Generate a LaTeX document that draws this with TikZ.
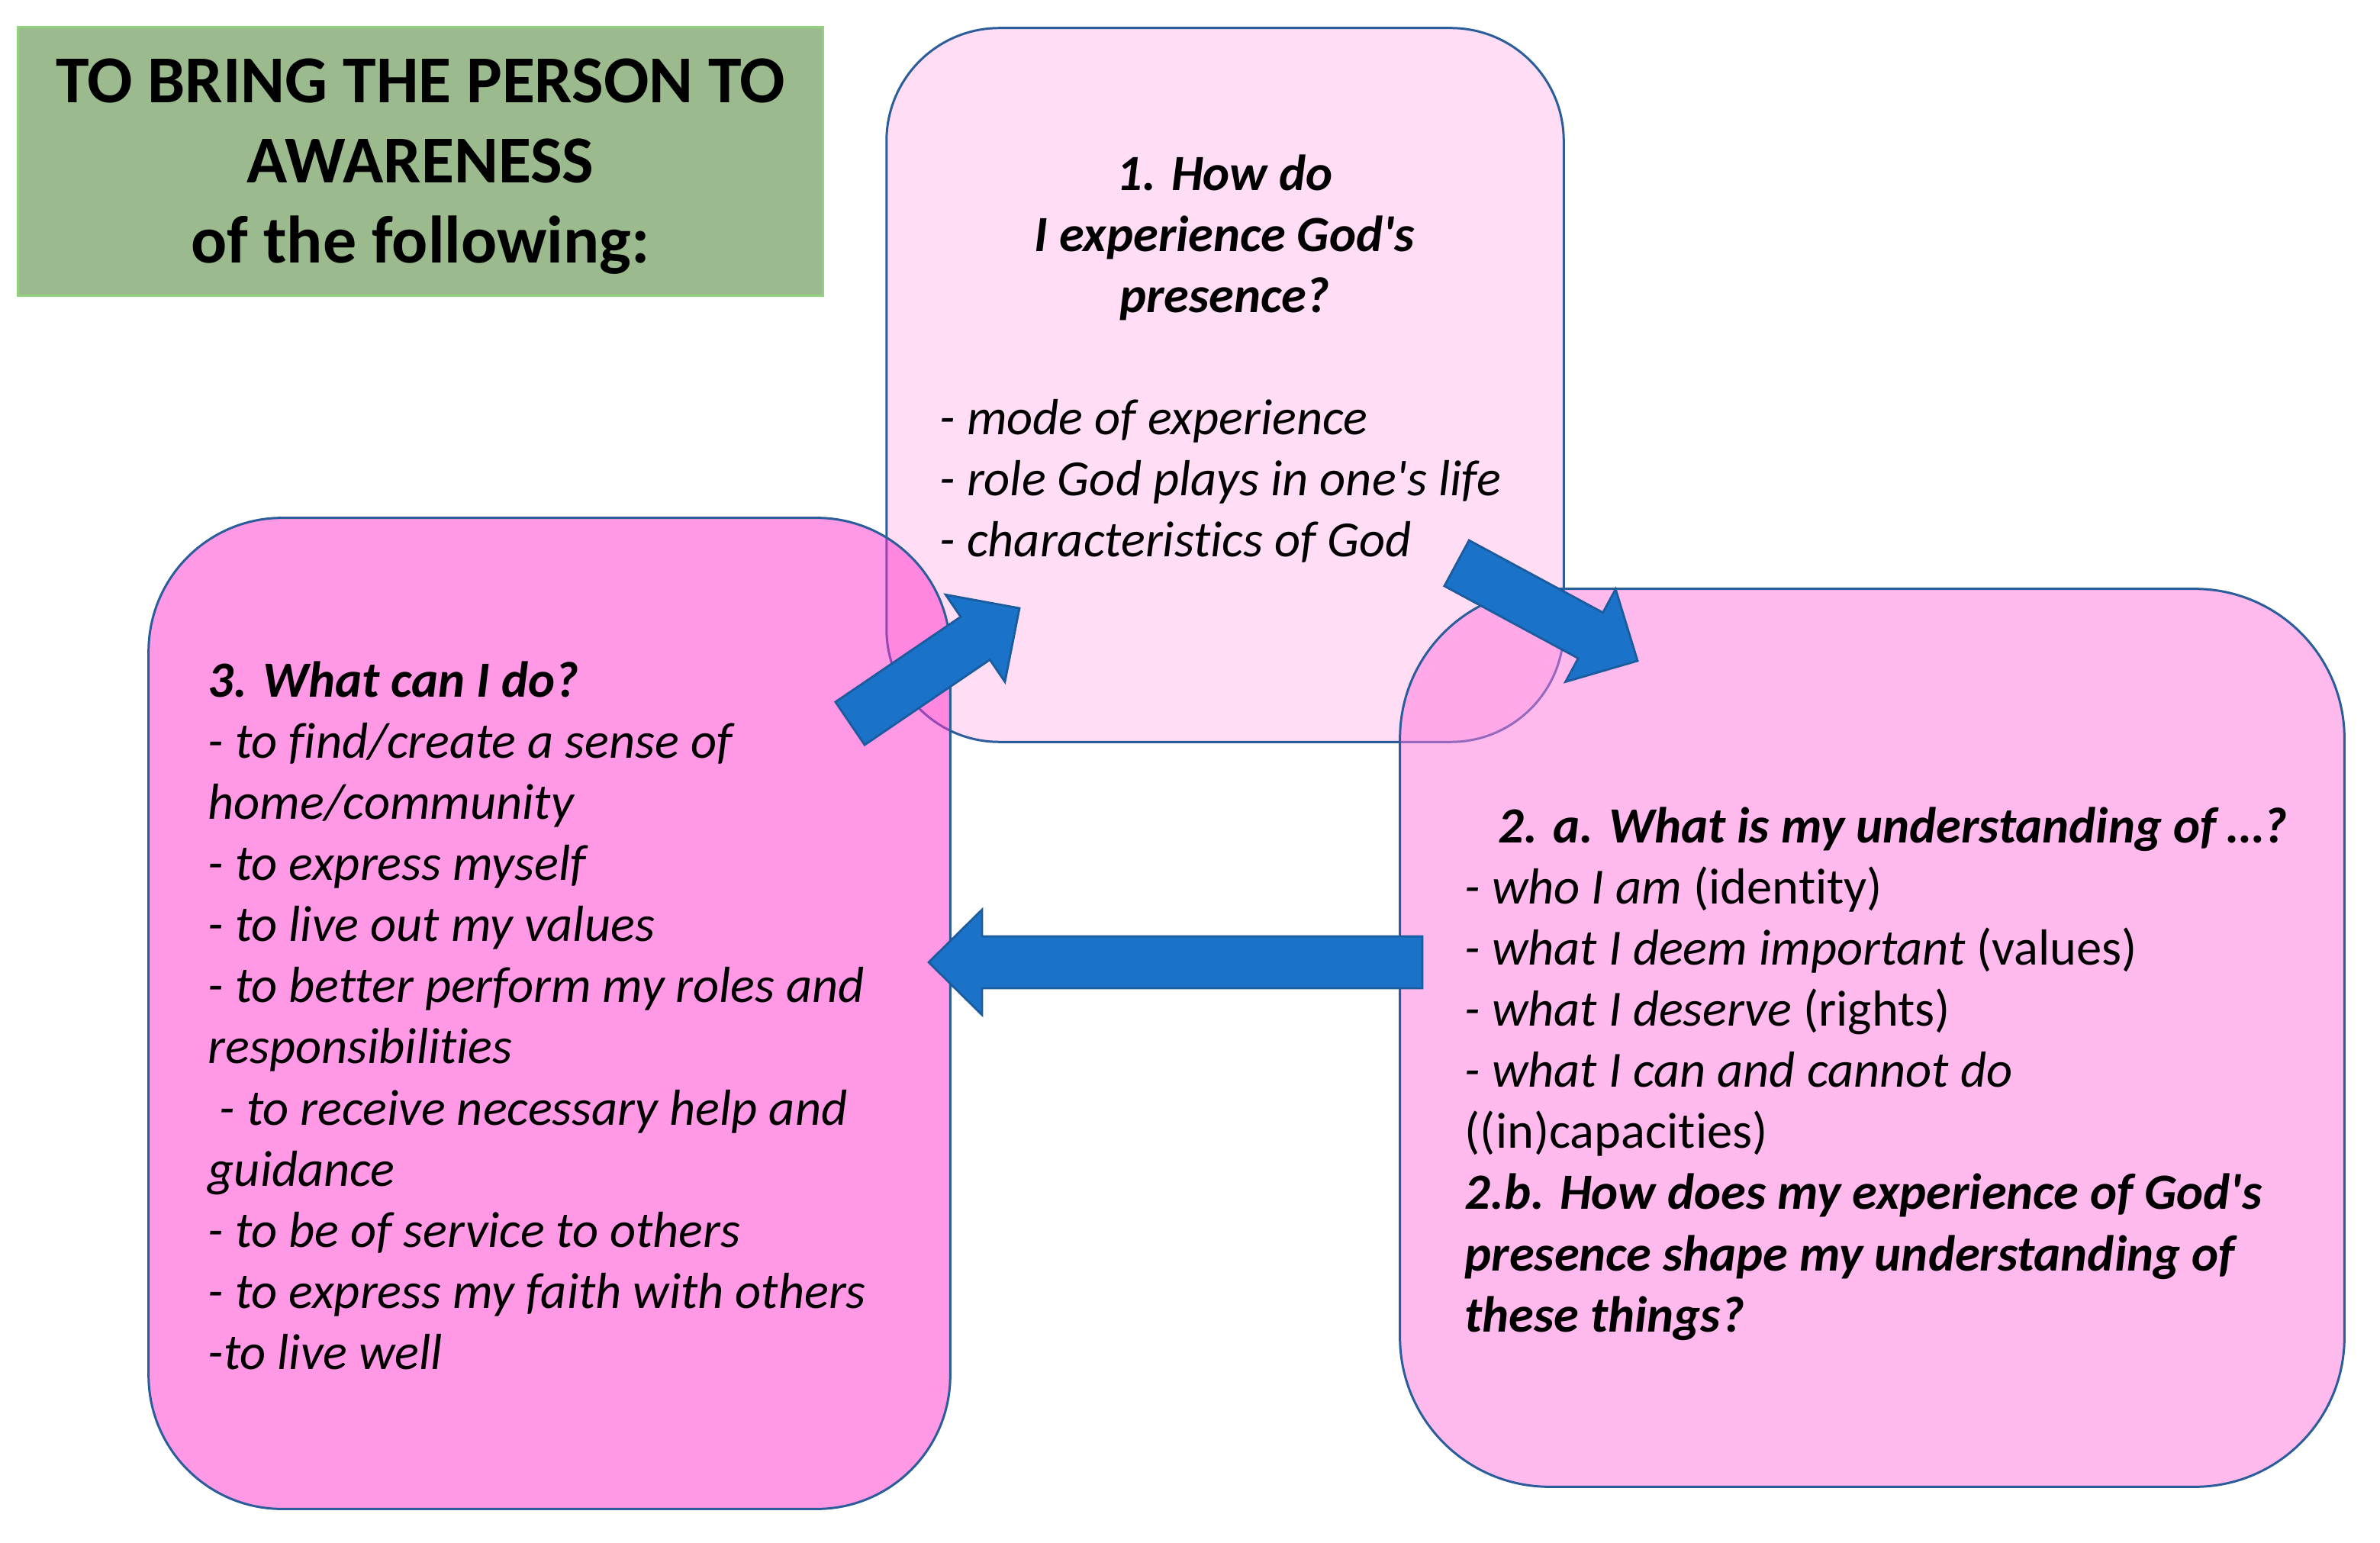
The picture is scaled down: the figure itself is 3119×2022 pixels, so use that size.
\documentclass[tikz,border=0pt]{standalone}
\usepackage{fontspec}
\setmainfont{Carlito}[Ligatures={TeXOff,CommonOff}]
\usetikzlibrary{calc}
\definecolor{boxline}{HTML}{2B5D9B}
\definecolor{arrowfill}{HTML}{1A73C8}
\definecolor{arrowline}{HTML}{1B5C9E}
\definecolor{titlefill}{HTML}{9BBB8F}
\definecolor{titleline}{HTML}{93D17F}
\definecolor{pinkA}{HTML}{FFDDF5}
\definecolor{pinkB}{HTML}{FF33CD}
\definecolor{pinkC}{HTML}{FF77DD}
\tikzset{
  pinkbox/.style={draw=boxline, line width=0.85pt, inner sep=0pt},
  blockarrowstyle/.style={fill=arrowfill, draw=arrowline, line width=0.8pt, line join=miter},
  bodytext/.style={inner sep=0pt, align=left, anchor=north west, font=\fontsize{18.9}{22.76}\selectfont\itshape},
  headtext/.style={inner sep=0pt, align=center, anchor=north, font=\fontsize{18.9}{22.76}\selectfont\itshape\bfseries},
}
\newcommand\blockarrow[3]{%
  \coordinate (#1n) at ($(#3)!0.70cm!(#2)$);
  \draw[blockarrowstyle] ($(#2)!0.34cm!90:(#3)$) -- ($(#1n)!0.34cm!-90:(#2)$) -- ($(#1n)!0.69cm!-90:(#2)$) -- (#3) -- ($(#1n)!0.69cm!90:(#2)$) -- ($(#1n)!0.34cm!90:(#2)$) -- ($(#2)!0.34cm!-90:(#3)$) -- cycle;
}
\begin{document}
\begin{tikzpicture}[x=0.01cm,y=-0.01cm]
\fill[white] (0,0) rectangle (3119,2022);
\useasboundingbox (0,0) rectangle (3119,2022);

% title
\node[fill=titlefill, draw=titleline, line width=0.85pt, inner sep=0pt, minimum width=10.54cm, minimum height=3.51cm] (title) at (551,211.5) {};
\node[inner sep=0pt, align=center, anchor=north, font=\fontsize{25}{29.9}\selectfont\bfseries] (titletext) at (551,60) {\strut TO BRING THE PERSON TO\\AWARENESS\\of the following:};

% boxes
\node[pinkbox, fill=pinkA, rounded corners=1.48cm, minimum width=8.87cm, minimum height=9.35cm] (b1) at (1605.5,504.5) {};
\node[pinkbox, fill=pinkB, fill opacity=0.5, rounded corners=1.75cm, minimum width=10.5cm, minimum height=12.98cm] (b3) at (720,1328) {};
\node[pinkbox, fill=pinkC, fill opacity=0.5, rounded corners=1.96cm, minimum width=12.37cm, minimum height=11.76cm] (b2) at (2453.5,1360) {};

% box 1 text
\node[headtext] (b1head) at (1605,193) {\strut 1. How do\\I experience God's\\presence?};
\node[bodytext] (b1body) at (1231,513) {\strut - mode of experience\\- role God plays in one's life\\- characteristics of God};

% box 3 text
\node[bodytext] (b3body) at (272,857) {\strut\textbf{3. What can I do?}\\
- to find/create a sense of\\
home/community\\
- to express myself\\
- to live out my values\\
- to better perform my roles and\\
responsibilities\\
\hspace*{0.15cm}- to receive necessary help and\\
guidance\\
- to be of service to others\\
- to express my faith with others\\
-to live well};

% box 2 text
\node[bodytext] (b2body) at (1919,1048) {\strut\hspace*{0.44cm}\textbf{2. a. What is my understanding of …?}\\
- who I am {\upshape(identity)}\\
- what I deem important {\upshape(values)}\\
- what I deserve {\upshape(rights)}\\
- what I can and cannot do\\
{\upshape((in)capacities)}\\
\textbf{2.b. How does my experience of God's}\\
\textbf{presence shape my understanding of}\\
\textbf{these things?}};

% arrows
\coordinate (a1t) at (1114,948);
\coordinate (a1h) at (1336,797);
\coordinate (a2t) at (1909,738);
\coordinate (a2h) at (2146,866);
\coordinate (a3t) at (1864,1261);
\coordinate (a3h) at (1217,1261);
\blockarrow{arA}{a1t}{a1h}
\blockarrow{arB}{a2t}{a2h}
\blockarrow{arC}{a3t}{a3h}
\end{tikzpicture}
\end{document}
